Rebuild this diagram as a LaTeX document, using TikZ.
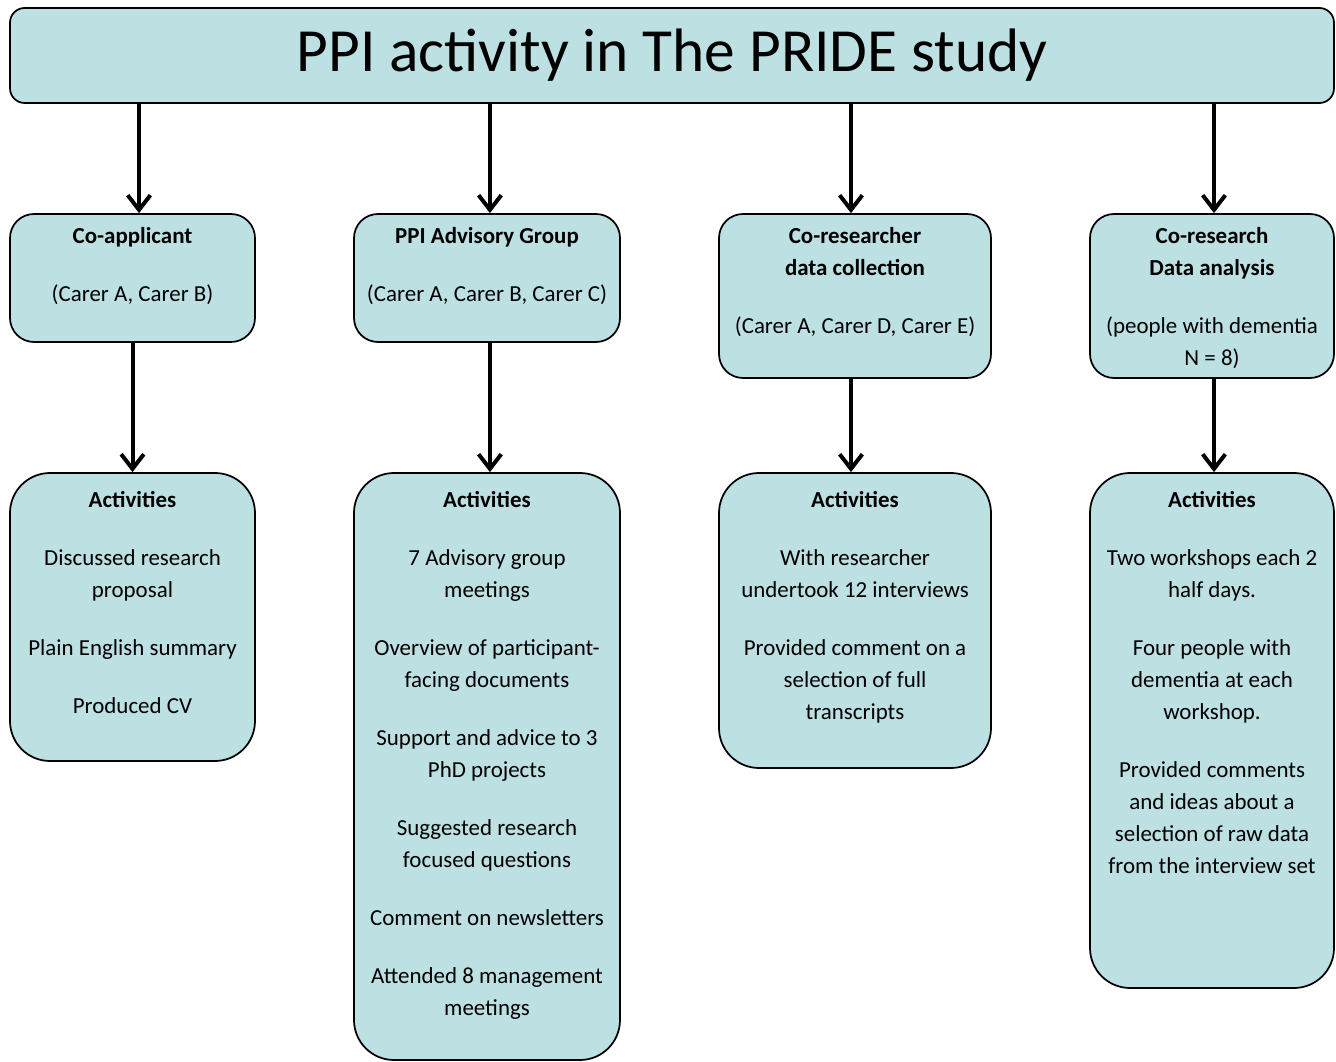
\documentclass[tikz,border=0pt]{standalone}
\usepackage{fontspec}
\setmainfont{Carlito}
\usetikzlibrary{arrows.meta,positioning}
\definecolor{ppiblue}{HTML}{BDE0E3}

\begin{document}
\begin{tikzpicture}[x=0.75pt, y=-0.75pt,
    box/.style={draw, fill=ppiblue, line width=1.3pt, rounded corners=18pt},
    actbox/.style={box, rounded corners=30pt},
    txt/.style={anchor=north, align=center, inner sep=0pt,
      font=\fontsize{17.2}{24}\selectfont},
    arr/.style={line width=3pt, -{Straight Barb[length=11pt,width=17pt]}}]
    \useasboundingbox (0,0) rectangle (1336,1062);
    % title bar
    \node[box, rounded corners=11pt, minimum width=993pt, minimum height=71.25pt,
      font=\fontsize{46}{56}\selectfont] (title) at (672,55.5) {PPI activity in The PRIDE study};
    % first row: who is involved
    \node[box, minimum width=183.75pt, minimum height=96pt] (coapp) at (132.5,278) {};
    \node[box, minimum width=199.5pt, minimum height=96pt] (advis) at (487,278) {};
    \node[box, minimum width=204pt, minimum height=123pt] (collect) at (855,296) {};
    \node[box, minimum width=183pt, minimum height=123pt] (analys) at (1212,296) {};
    \node[txt, below=10.5pt of coapp.north] (coappt)
      {\textbf{Co-applicant}\\[19.5pt](Carer A, Carer B)};
    \node[txt, below=10.5pt of advis.north] (advist)
      {\textbf{PPI Advisory Group}\\[19.5pt](Carer A, Carer B, Carer C)};
    \node[txt, below=10.5pt of collect.north] (collectt)
      {\textbf{Co-researcher}\\\textbf{data collection}\\[19.5pt](Carer A, Carer D, Carer E)};
    \node[txt, below=10.5pt of analys.north] (analyst)
      {\textbf{Co-research}\\\textbf{Data analysis}\\[19.5pt](people with dementia\\N = 8)};
    % second row: activities
    \node[actbox, minimum width=183.75pt, minimum height=216pt] (coappact) at (132.5,617) {};
    \node[actbox, minimum width=199.5pt, minimum height=440.25pt] (advisact) at (487,766.5) {};
    \node[actbox, minimum width=204pt, minimum height=221.25pt] (collectact) at (855,620.5) {};
    \node[actbox, minimum width=183pt, minimum height=386.25pt] (analysact) at (1212,730.5) {};
    \node[txt, below=14.5pt of coappact.north] (coappactt)
      {\textbf{Activities}\\[19.5pt]Discussed research\\proposal\\[19.5pt]Plain English summary\\[19.5pt]Produced CV};
    \node[txt, below=14.5pt of advisact.north] (advisactt)
      {\textbf{Activities}\\[19.5pt]7 Advisory group\\meetings\\[19.5pt]Overview of participant-\\facing documents\\[19.5pt]Support and advice to 3\\PhD projects\\[19.5pt]Suggested research\\focused questions\\[19.5pt]Comment on newsletters\\[19.5pt]Attended 8 management\\meetings};
    \node[txt, below=14.5pt of collectact.north] (collectactt)
      {\textbf{Activities}\\[19.5pt]With researcher\\undertook 12 interviews\\[19.5pt]Provided comment on a\\selection of full\\transcripts};
    \node[txt, below=14.5pt of analysact.north] (analysactt)
      {\textbf{Activities}\\[19.5pt]Two workshops each 2\\half days.\\[19.5pt]Four people with\\dementia at each\\workshop.\\[19.5pt]Provided comments\\and ideas about a\\selection of raw data\\from the interview set};
    % arrows
    \draw[arr] ([xshift=4.9pt]coapp.north |- title.south) -- ([xshift=4.9pt]coapp.north);
    \draw[arr] ([xshift=2.2pt]advis.north |- title.south) -- ([xshift=2.2pt]advis.north);
    \draw[arr] ([xshift=-3pt]collect.north |- title.south) -- ([xshift=-3pt]collect.north);
    \draw[arr] ([xshift=1.5pt]analys.north |- title.south) -- ([xshift=1.5pt]analys.north);
    \draw[arr] (coapp) -- (coappact);
    \draw[arr] ([xshift=2.2pt]advis.south) -- ([xshift=2.2pt]advisact.north);
    \draw[arr] ([xshift=-3pt]collect.south) -- ([xshift=-3pt]collectact.north);
    \draw[arr] ([xshift=1.5pt]analys.south) -- ([xshift=1.5pt]analysact.north);
\end{tikzpicture}
\end{document}
